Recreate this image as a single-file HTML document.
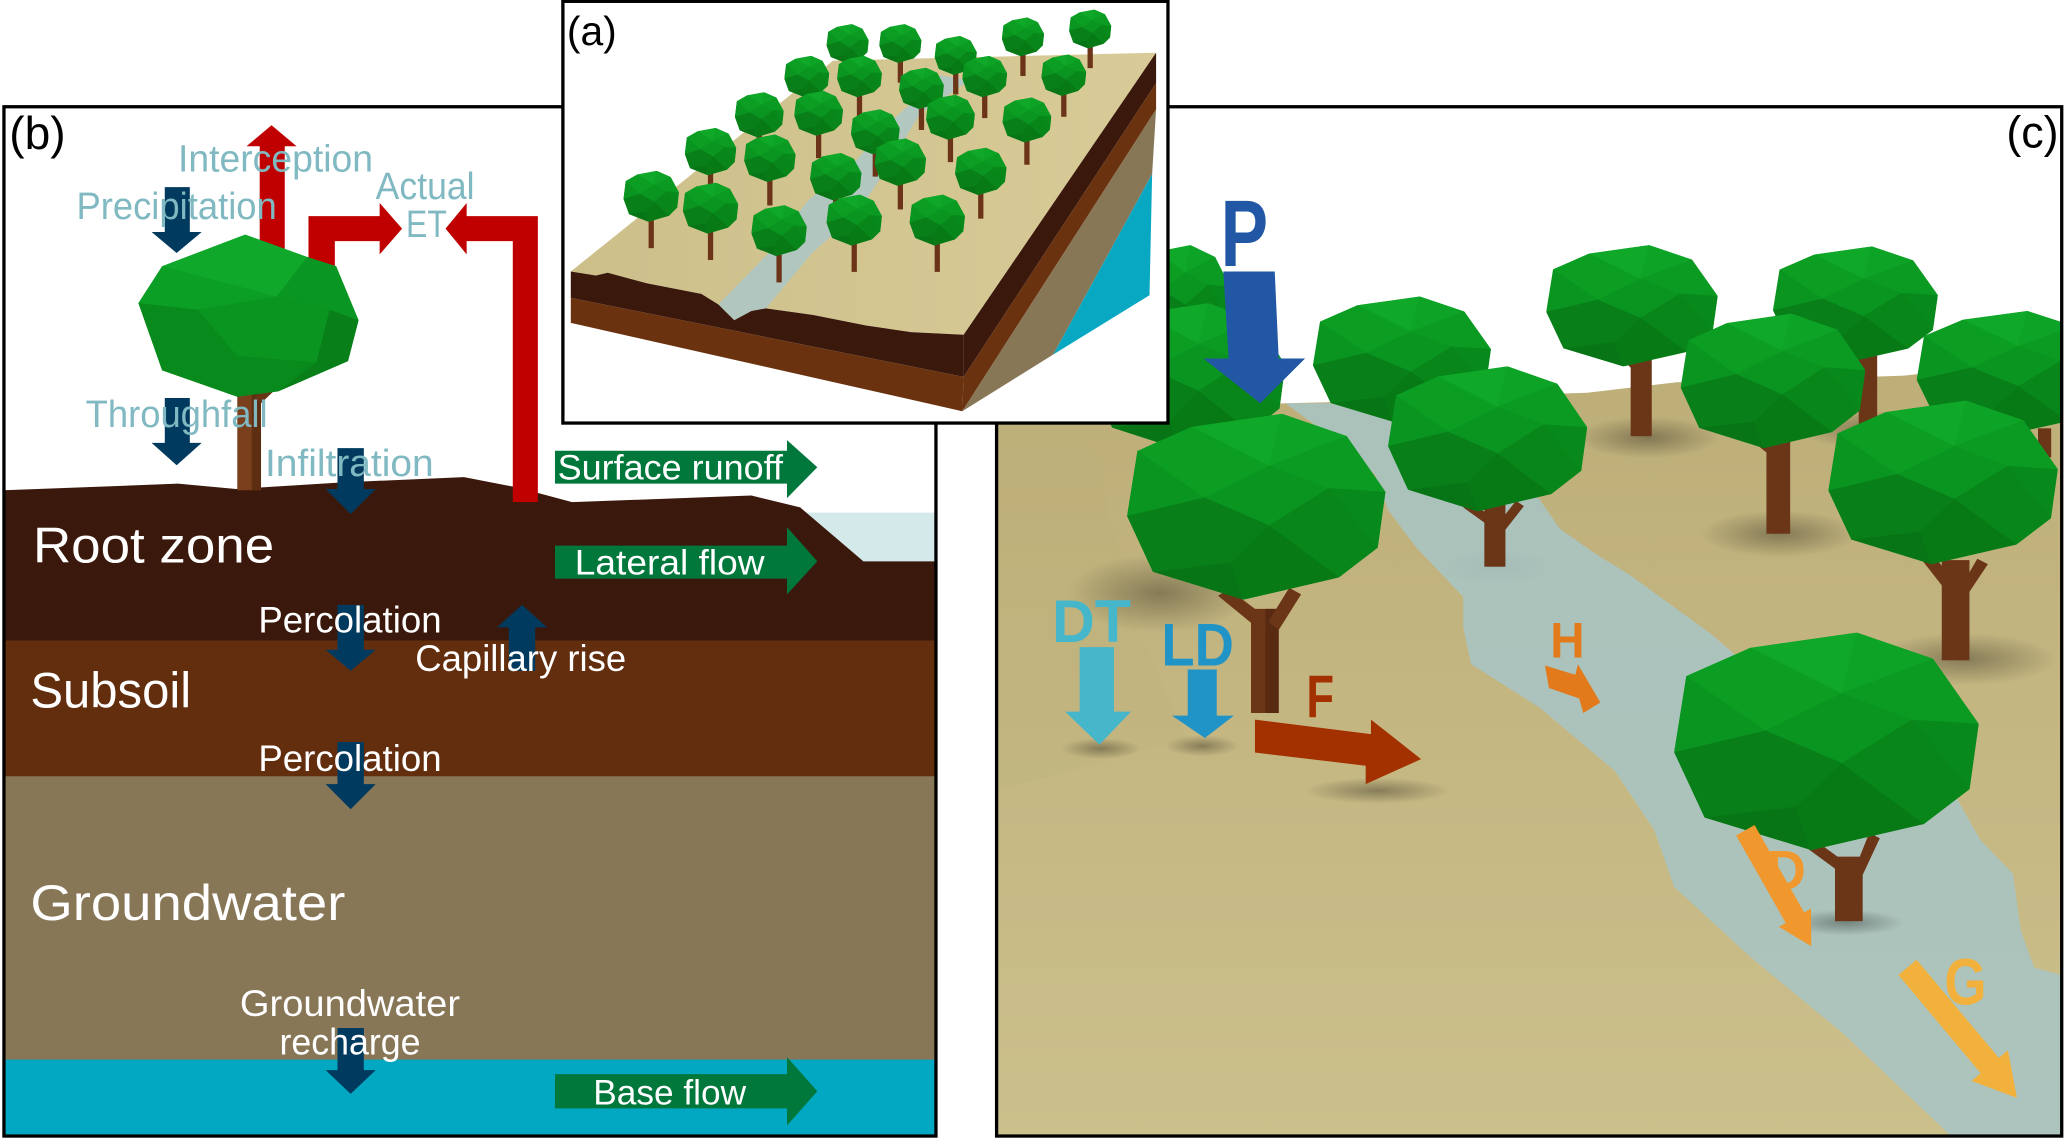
<!DOCTYPE html>
<html><head><meta charset="utf-8"><style>
html,body{margin:0;padding:0;background:#fff;}
svg{display:block;}
text{font-family:"Liberation Sans",sans-serif;}
</style></head><body>
<svg width="2067" height="1140" viewBox="0 0 1568 865" preserveAspectRatio="none" xmlns="http://www.w3.org/2000/svg">
<defs>
<symbol id="cn" viewBox="0 0 100 100" preserveAspectRatio="none">
<polygon points="60,0 85,12 100,42 97,72 82,88 45,100 10,85 0,55 4,20 25,7" fill="#0a9420"/>
<polygon points="25,7 60,0 55,28" fill="#0fa828"/>
<polygon points="60,0 85,12 55,28" fill="#0da326"/>
<polygon points="85,12 100,42 78,40 55,28" fill="#0b9b22"/>
<polygon points="4,20 25,7 55,28 30,45" fill="#0b9e23"/>
<polygon points="0,55 4,20 30,45" fill="#0a9520"/>
<polygon points="30,45 55,28 78,40 55,60" fill="#0a9520"/>
<polygon points="78,40 100,42 97,72" fill="#08891b"/>
<polygon points="55,60 78,40 97,72 82,88" fill="#088619"/>
<polygon points="0,55 30,45 55,60 40,80 10,85" fill="#087f18"/>
<polygon points="10,85 40,80 45,100" fill="#077516"/>
<polygon points="40,80 55,60 82,88 45,100" fill="#077a16"/>
</symbol>
<clipPath id="cb"><rect x="3" y="81" width="707" height="781"/></clipPath>
<clipPath id="cc"><rect x="756" y="81" width="808" height="781"/></clipPath>
<linearGradient id="gc" x1="0" y1="0" x2="0" y2="1"><stop offset="0" stop-color="#bdae78"/><stop offset="0.5" stop-color="#c5b782"/><stop offset="1" stop-color="#cbbf8b"/></linearGradient>
<linearGradient id="ga" x1="0" y1="0" x2="1" y2="0"><stop offset="0" stop-color="#cdbf8a"/><stop offset="1" stop-color="#d8cb97"/></linearGradient>
<radialGradient id="sh"><stop offset="0" stop-color="#000" stop-opacity="0.32"/><stop offset="1" stop-color="#000" stop-opacity="0"/></radialGradient>
</defs>

<rect x="0" y="0" width="1568" height="865" fill="#fff"/>

<!-- ============ PANEL B ============ -->
<g clip-path="url(#cb)">
<rect x="3" y="81" width="707" height="781" fill="#fff"/>
<polygon points="605,389 710,389 710,428 655,428" fill="#d3e9ea"/>
<rect x="3" y="588" width="707" height="217" fill="#887757"/>
<rect x="3" y="485" width="707" height="104" fill="#632e0e"/>
<polygon points="3,372 135,367 179,371 260,366 352,362 393,370 434,381 570,376 607,385 655,426 710,426 710,486 3,486" fill="#3a190c"/>
<rect x="3" y="804" width="707" height="58" fill="#02a8c1"/>

<!-- red ET arrows -->
<polygon points="206,95 225,111 216,111 216,205 197,205 197,111 187,111" fill="#c00000"/>
<polygon points="234,215 234,164 288,164 288,154 305,173.5 288,193 288,183 254,183 254,215" fill="#c00000"/>
<polygon points="338,173.5 354,154 354,164 408,164 408,381 389,381 389,183 354,183 354,193" fill="#c00000"/>

<!-- tree -->
<rect x="180" y="290" width="18" height="82" fill="#7a3f1c"/>
<rect x="191" y="290" width="7" height="82" fill="#5e2e13"/>
<polygon points="183,302 168,284 175,281 191,298" fill="#7a3f1c"/>
<polygon points="193,302 212,282 219,286 198,306" fill="#6a3517"/>
<polygon points="186,178 233,195 255,202 272,243 264,274 211,297 180,301 123,281 105,230 123,202" fill="#0b9a22"/>
<polygon points="186,178 233,195 210,225 123,202" fill="#0fa82a"/>
<polygon points="123,202 210,225 150,235 105,230" fill="#0c9f25"/>
<polygon points="233,195 255,202 272,243 250,235 210,225" fill="#0a9622"/>
<polygon points="210,225 250,235 240,275 180,270 150,235" fill="#0a9420"/>
<polygon points="105,230 150,235 180,270 240,275 211,297 180,301 123,281" fill="#088a1c"/>
<polygon points="250,235 272,243 264,274 211,297 240,275" fill="#087f19"/>

<!-- navy arrows -->
<g fill="#003a5f">
<polygon points="125,142 144,142 144,176 153,176 134,192 115,176 125,176"/>
<polygon points="125,302 144,302 144,336 153,336 134,353 115,336 125,336"/>
<polygon points="256,340 276,340 276,371 285,371 266,390 247,371 256,371"/>
<polygon points="256,459 276,459 276,493 285,493 266,509 247,493 256,493"/>
<polygon points="386,509 406,509 406,476 415,476 396,459 377,476 386,476"/>
<polygon points="256,563 276,563 276,595 285,595 266,614 247,595 256,595"/>
<polygon points="256,780 276,780 276,812 285,812 266,830 247,812 256,812"/>
</g>

<!-- green arrows -->
<g fill="#00773b">
<polygon points="421,342 597,342 597,334 620,354.5 597,378 597,367 421,367"/>
<polygon points="421,414 597,414 597,400 620,426 597,451 597,439 421,439"/>
<polygon points="421,815 597,815 597,802 620,828 597,854 597,841 421,841"/>
</g>

<!-- teal labels -->
<g fill="#80b9c1" font-size="29">
<text x="135" y="130" textLength="148" lengthAdjust="spacingAndGlyphs">Interception</text>
<text x="58" y="166" textLength="152" lengthAdjust="spacingAndGlyphs">Precipitation</text>
<text x="285" y="151" textLength="75" lengthAdjust="spacingAndGlyphs">Actual</text>
<text x="308" y="180" textLength="31" lengthAdjust="spacingAndGlyphs">ET</text>
<text x="65" y="324" textLength="138" lengthAdjust="spacingAndGlyphs">Throughfall</text>
<text x="201" y="361" textLength="128" lengthAdjust="spacingAndGlyphs">Infiltration</text>
</g>

<!-- white labels -->
<g fill="#fff">
<text x="423" y="364" font-size="27" textLength="171" lengthAdjust="spacingAndGlyphs">Surface runoff</text>
<text x="436" y="436" font-size="27" textLength="144" lengthAdjust="spacingAndGlyphs">Lateral flow</text>
<text x="450" y="838" font-size="27" textLength="116" lengthAdjust="spacingAndGlyphs">Base flow</text>
<text x="25" y="427" font-size="38" textLength="183" lengthAdjust="spacingAndGlyphs">Root zone</text>
<text x="23" y="537" font-size="38" textLength="122" lengthAdjust="spacingAndGlyphs">Subsoil</text>
<text x="23" y="698" font-size="38" textLength="239" lengthAdjust="spacingAndGlyphs">Groundwater</text>
<text x="196" y="480" font-size="28" textLength="139" lengthAdjust="spacingAndGlyphs">Percolation</text>
<text x="315" y="509" font-size="28" textLength="160" lengthAdjust="spacingAndGlyphs">Capillary rise</text>
<text x="196" y="585" font-size="28" textLength="139" lengthAdjust="spacingAndGlyphs">Percolation</text>
<text x="182" y="771" font-size="28" textLength="167" lengthAdjust="spacingAndGlyphs">Groundwater</text>
<text x="212" y="800" font-size="28" textLength="107" lengthAdjust="spacingAndGlyphs">recharge</text>
</g>
<text x="7" y="113" font-size="35" fill="#000">(b)</text>
</g>
<rect x="3" y="81" width="707" height="781" fill="none" stroke="#000" stroke-width="2.5"/>

<!-- ============ PANEL C ============ -->
<g clip-path="url(#cc)">
<rect x="756" y="81" width="808" height="781" fill="#fff"/>
<polygon points="756,321 886,321 920,309 975,306 1060,304 1140,300 1204,298 1272,290 1360,288 1444,285 1565,272 1565,862 756,862" fill="url(#gc)"/>
<polygon points="756,330 830,340 860,470 900,560 756,600" fill="#bcae79" opacity="0.25"/>
<!-- shadows -->
<ellipse cx="880" cy="450" rx="70" ry="30" fill="url(#sh)"/>
<ellipse cx="835" cy="568" rx="30" ry="8" fill="url(#sh)"/>
<ellipse cx="912" cy="566" rx="28" ry="8" fill="url(#sh)"/>
<ellipse cx="1045" cy="600" rx="55" ry="10" fill="url(#sh)"/>
<ellipse cx="1250" cy="332" rx="55" ry="16" fill="url(#sh)"/>
<ellipse cx="1420" cy="326" rx="55" ry="15" fill="url(#sh)"/>
<ellipse cx="1350" cy="405" rx="60" ry="18" fill="url(#sh)"/>
<ellipse cx="1490" cy="500" rx="70" ry="20" fill="url(#sh)"/>
<ellipse cx="1135" cy="430" rx="45" ry="14" fill="url(#sh)"/>
<!-- stream -->
<polygon points="975,306 1012,333 1043,360 1053,387 1074,415 1110,453 1110,476 1116,504 1168,537 1225,585 1255,630 1270,673 1330,728 1398,784 1480,862 1564,862 1564,740 1543,734 1533,706 1527,663 1502,637 1470,580 1400,540 1320,500 1298,481 1236,436 1210,420 1183,401 1168,379 1120,340 1058,320 1010,306" fill="#a9c4c2" opacity="0.9"/>
<ellipse cx="1400" cy="700" rx="45" ry="10" fill="url(#sh)"/>

<!-- trunks back -->
<g fill="#6b3518">
<rect x="1410" y="268" width="14" height="56"/>
<rect x="1237" y="270" width="16" height="61"/>
<polygon points="1238,280 1226,268 1232,265 1245,278"/>
<rect x="1340" y="330" width="18" height="75"/>
<polygon points="1342,345 1326,332 1332,328 1350,342"/>
<rect x="1126" y="380" width="16" height="50"/>
<polygon points="1128,398 1110,385 1116,381 1134,394"/>
<polygon points="1136,398 1150,380 1156,384 1142,402"/>
<rect x="1546" y="325" width="10" height="22"/>
</g>
<use href="#cn" x="858" y="186" width="75" height="75"/>
<use href="#cn" x="1345" y="187" width="125" height="88"/>
<use href="#cn" x="1173" y="186" width="130" height="92"/>
<use href="#cn" x="1454" y="236" width="140" height="95"/>
<use href="#cn" x="996" y="225" width="135" height="95"/>
<use href="#cn" x="829" y="230" width="146" height="111"/>
<use href="#cn" x="1275" y="238" width="140" height="102"/>
<use href="#cn" x="1053" y="278" width="151" height="110"/>
<g fill="#6b3518">
<rect x="1473" y="425" width="21" height="76"/>
<polygon points="1476,448 1458,425 1466,421 1484,442"/>
<polygon points="1486,448 1500,424 1508,428 1492,452"/>
</g>
<use href="#cn" x="1387" y="304" width="174" height="124"/>
<g fill="#6b3518">
<rect x="949" y="462" width="21" height="79"/>
<rect x="960" y="462" width="10" height="79" fill="#572a11"/>
<polygon points="952,475 924,452 932,447 960,468"/>
<polygon points="962,472 978,446 987,451 970,478"/>
</g>
<use href="#cn" x="855" y="314" width="196" height="141"/>
<g fill="#6b3518">
<rect x="1392" y="650" width="21" height="49"/>
<polygon points="1396,662 1366,640 1372,634 1402,656"/>
<polygon points="1406,662 1418,632 1426,636 1412,666"/>
</g>
<use href="#cn" x="1270" y="480" width="231" height="165"/>

<!-- P arrow -->
<polygon points="928,206 967,206 970,272 990,272 956,306 913,272 932,272" fill="#2157a4"/>
<text x="926" y="202" font-size="72" font-weight="bold" fill="#2157a4" textLength="36" lengthAdjust="spacingAndGlyphs">P</text>
<!-- DT -->
<text x="798" y="487" font-size="46" font-weight="bold" fill="#46b6cb" textLength="60" lengthAdjust="spacingAndGlyphs">DT</text>
<polygon points="819,491 845,491 845,540 858,540 834,565 808,540 819,540" fill="#46b6cb"/>
<!-- LD -->
<text x="881" y="505" font-size="46" font-weight="bold" fill="#2093c7" textLength="55" lengthAdjust="spacingAndGlyphs">LD</text>
<polygon points="901,508 923,508 923,543 936,543 914,560 889,543 901,543" fill="#2093c7"/>
<!-- F -->
<text x="991" y="544" font-size="46" font-weight="bold" fill="#a33100" textLength="21" lengthAdjust="spacingAndGlyphs">F</text>
<polygon points="952,546 1040,557 1040,546 1078,576 1036,595 1036,581 952,571" fill="#a33100"/>
<!-- H -->
<text x="1176" y="499" font-size="38" font-weight="bold" fill="#e27a1c" textLength="26" lengthAdjust="spacingAndGlyphs">H</text>
<polygon points="1172,505 1195,512 1197,504 1214,533 1201,541 1198,530 1175,522" fill="#e27a1c"/>
<!-- D -->
<polygon points="1331,626 1368.6,692.3 1373.8,689.4 1374,718 1349.4,703.2 1354.6,700.3 1317,634" fill="#f0982e"/>
<text x="1340" y="675" font-size="42" font-weight="bold" fill="#f0982e" textLength="30" lengthAdjust="spacingAndGlyphs">D</text>
<!-- G -->
<polygon points="1453.9,728.2 1516.3,802.7 1523.2,796.9 1530,833 1495.6,820.1 1502.5,814.3 1440.1,739.8" fill="#f2b13c"/>
<text x="1475" y="762" font-size="50" font-weight="bold" fill="#f2b13c" textLength="32" lengthAdjust="spacingAndGlyphs">G</text>

<text x="1522" y="112" font-size="34" fill="#000">(c)</text>
</g>
<rect x="756" y="81" width="808" height="781" fill="none" stroke="#000" stroke-width="2.5"/>

<!-- ============ PANEL A ============ -->
<rect x="427" y="1" width="459" height="320" fill="#fff"/>
<polygon points="632,46 877,40 731,254 691,252 657,247 617,239 581,234 570,236 557,243 545,231 532,223 491,215 461,207 452,209 433,206" fill="url(#ga)"/>
<polygon points="545,231 583,192 613,152 650,121 677,91 694,76 713,57 735,61 718,73 698,86 674,126 650,162 616,192 581,234 570,236 557,243" fill="#aec7c5" opacity="0.9"/>
<polygon points="433,206 452,209 461,207 491,215 532,223 545,231 557,243 570,236 581,234 617,239 657,247 691,252 731,254 731,286 433,226" fill="#3a190c"/>
<polygon points="433,226 731,286 730,312 433,245" fill="#6a320f"/>
<polygon points="731,254 877,40 877,63 731,286" fill="#3a190c"/>
<polygon points="731,286 877,63 877,83 730,312" fill="#6a320f"/>
<polygon points="730,312 877,83 874,132 799,269" fill="#887757"/>
<polygon points="799,269 874,132 872,224" fill="#08a8c3"/>

<g fill="#6b3318">
<rect x="641" y="33" width="4" height="29.7"/><rect x="681" y="33" width="4" height="29.7"/><rect x="723" y="42" width="4" height="29.7"/><rect x="774" y="28" width="4" height="29.7"/><rect x="825" y="22" width="4" height="29.7"/>
</g>
<use href="#cn" x="627" y="18.3" width="32" height="29.4"/>
<use href="#cn" x="667" y="18.3" width="32" height="29.4"/>
<use href="#cn" x="709" y="27.3" width="32" height="29.4"/>
<use href="#cn" x="760" y="13.3" width="32" height="29.4"/>
<use href="#cn" x="811" y="7.3" width="32" height="29.4"/>
<g fill="#6b3318">
<rect x="610" y="58" width="4" height="31.6"/><rect x="650" y="58" width="4" height="31.6"/><rect x="697" y="67" width="4" height="31.6"/><rect x="745" y="58" width="4" height="31.6"/><rect x="805" y="57" width="4" height="31.6"/>
</g>
<use href="#cn" x="595" y="42.4" width="34" height="31.3"/>
<use href="#cn" x="635" y="42.4" width="34" height="31.3"/>
<use href="#cn" x="730" y="42.4" width="34" height="31.3"/>
<use href="#cn" x="790" y="41.4" width="34" height="31.3"/>
<use href="#cn" x="682" y="51.4" width="34" height="31.3"/>
<g fill="#6b3318">
<rect x="574" y="87" width="4" height="34"/><rect x="619" y="86" width="4" height="34"/><rect x="662" y="100" width="4" height="34"/><rect x="719" y="89" width="4" height="34"/><rect x="777" y="91" width="4" height="34"/>
</g>
<use href="#cn" x="557.5" y="70" width="37" height="34"/>
<use href="#cn" x="602.5" y="69" width="37" height="34"/>
<use href="#cn" x="702.5" y="72" width="37" height="34"/>
<use href="#cn" x="760.5" y="74" width="37" height="34"/>
<use href="#cn" x="645.5" y="83" width="37" height="34"/>
<g fill="#6b3318">
<rect x="537" y="115" width="4" height="35.9"/><rect x="582" y="120" width="4" height="35.9"/><rect x="632" y="134" width="4" height="35.9"/><rect x="681" y="123" width="4" height="35.9"/><rect x="742" y="130" width="4" height="35.9"/>
</g>
<use href="#cn" x="519.5" y="97.1" width="39" height="35.9"/>
<use href="#cn" x="564.5" y="102.1" width="39" height="35.9"/>
<use href="#cn" x="663.5" y="105.1" width="39" height="35.9"/>
<use href="#cn" x="724.5" y="112.1" width="39" height="35.9"/>
<use href="#cn" x="614.5" y="116.1" width="39" height="35.9"/>
<g fill="#6b3318">
<rect x="492" y="149" width="4" height="39.3"/><rect x="537" y="158" width="4" height="39.3"/><rect x="589" y="175" width="4" height="39.3"/><rect x="646" y="167" width="4" height="39.3"/><rect x="709" y="167" width="4" height="39.3"/>
</g>
<use href="#cn" x="473" y="129.7" width="42" height="38.6"/>
<use href="#cn" x="518" y="138.7" width="42" height="38.6"/>
<use href="#cn" x="627" y="147.7" width="42" height="38.6"/>
<use href="#cn" x="690" y="147.7" width="42" height="38.6"/>
<use href="#cn" x="570" y="155.7" width="42" height="38.6"/>

<text x="430" y="34" font-size="31" fill="#000">(a)</text>
<rect x="427" y="1" width="459" height="320" fill="none" stroke="#000" stroke-width="2.5"/>
</svg>
</body></html>
